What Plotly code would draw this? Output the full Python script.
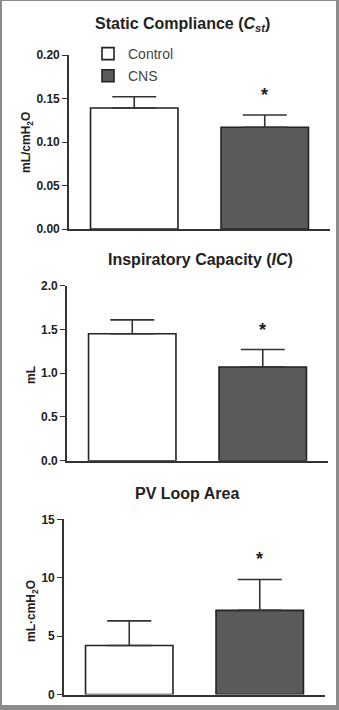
import plotly.graph_objects as go

W, H = 339, 710
FONT = "Liberation Sans, Arial, sans-serif"

groups = ["Control", "CNS"]
fill_colors = ["#ffffff", "#5a5a5a"]

titles = ["Static Compliance (<i>C</i><sub><i>st</i></sub>)",
          "Inspiratory Capacity (<i>IC</i>)",
          "PV Loop Area"]
ylabels = ["mL/cmH<sub>2</sub>O", "mL", "mL·cmH<sub>2</sub>O"]

# means and SEM
cst_mean = [0.139, 0.117]
cst_sem = [0.013, 0.014]
ic_mean = [1.45, 1.07]
ic_sem = [0.16, 0.20]
pv_mean = [4.2, 7.2]
pv_sem = [2.1, 2.65]

means = [cst_mean, ic_mean, pv_mean]
sems = [cst_sem, ic_sem, pv_sem]

y_ranges = [[0, 0.20], [0, 2.0], [0, 15]]
y_ticks = [[0.00, 0.05, 0.10, 0.15, 0.20],
           [0.0, 0.5, 1.0, 1.5, 2.0],
           [0, 5, 10, 15]]
y_ticktext = [["0.00", "0.05", "0.10", "0.15", "0.20"],
              ["0.0", "0.5", "1.0", "1.5", "2.0"],
              ["0", "5", "10", "15"]]

# pixel layout helpers
def px(x):
    return x / W

def py(y):
    return 1 - y / H

x_dom_px = [(69, 330), (67, 328), (64, 325)]
y_dom_px = [(229, 55), (460.7, 285.7), (694.5, 519.3)]
title_pos = [(182, 25), (200, 260), (187, 493)]
ylabel_pos = [(27, 143), (31, 375), (32, 611)]

fig = go.Figure()

for p in range(3):
    xa = "x" if p == 0 else f"x{p+1}"
    ya = "y" if p == 0 else f"y{p+1}"
    for g in range(2):
        fig.add_trace(go.Bar(
            x=[groups[g]], y=[means[p][g]],
            name=groups[g], legendgroup=groups[g], showlegend=(p == 0),
            marker=dict(color=fill_colors[g], line=dict(color="#222222", width=1.6)),
            width=0.67,
            error_y=dict(type="data", symmetric=False, array=[sems[p][g]],
                         arrayminus=[0], color="#333333", thickness=1.6, width=22),
            xaxis=xa, yaxis=ya,
        ))

layout = dict(
    width=W, height=H,
    margin=dict(l=0, r=0, t=0, b=0),
    paper_bgcolor="white", plot_bgcolor="white",
    font=dict(family=FONT, color="#222222"),
    barmode="group",
    showlegend=True,
    legend=dict(x=px(88), y=py(38), xanchor="left", yanchor="top",
                font=dict(family=FONT, size=14, color="#444444"),
                bgcolor="rgba(0,0,0,0)", tracegroupgap=1),
)

annotations = []
for p in range(3):
    ya = "y" if p == 0 else f"y{p+1}"
    xa = "x" if p == 0 else f"x{p+1}"
    xk = "xaxis" if p == 0 else f"xaxis{p+1}"
    yk = "yaxis" if p == 0 else f"yaxis{p+1}"
    layout[xk] = dict(
        domain=[px(x_dom_px[p][0]), px(x_dom_px[p][1])],
        anchor=ya, range=[-0.5, 1.5], type="category",
        showline=True, linecolor="#333333", linewidth=1.6,
        showticklabels=False, ticks="", showgrid=False, zeroline=False,
    )
    layout[yk] = dict(
        domain=[py(y_dom_px[p][0]), py(y_dom_px[p][1])],
        anchor=xa, range=y_ranges[p],
        tickvals=y_ticks[p], ticktext=y_ticktext[p],
        showline=True, linecolor="#333333", linewidth=1.6,
        ticks="outside", ticklen=5, tickwidth=1.4, tickcolor="#333333",
        tickfont=dict(family=FONT, size=12, color="#222222", weight="bold"),
        showgrid=False, zeroline=False, automargin=False,
    )
    annotations.append(dict(
        text=f"<b>{titles[p]}</b>", xref="paper", yref="paper",
        x=px(title_pos[p][0]), y=py(title_pos[p][1]),
        xanchor="center", yanchor="middle", showarrow=False,
        font=dict(family=FONT, size=16, color="#222222"),
    ))
    annotations.append(dict(
        text=f"<b>{ylabels[p]}</b>", xref="paper", yref="paper",
        x=px(ylabel_pos[p][0]), y=py(ylabel_pos[p][1]),
        xanchor="center", yanchor="middle", showarrow=False, textangle=-90,
        font=dict(family=FONT, size=12, color="#222222"),
    ))
    # significance star above CNS bar
    annotations.append(dict(
        text="<b>*</b>", xref=xa, yref=ya,
        x=groups[1], y=means[p][1] + sems[p][1],
        xanchor="center", yanchor="middle", yshift=20, showarrow=False,
        font=dict(family=FONT, size=18, color="#222222"),
    ))

layout["annotations"] = annotations

border = "#8c8c8c"
layout["shapes"] = [
    dict(type="rect", xref="paper", yref="paper", x0=0, x1=px(2), y0=0, y1=1,
         fillcolor=border, line=dict(width=0), layer="above"),
    dict(type="rect", xref="paper", yref="paper", x0=px(336), x1=1, y0=0, y1=1,
         fillcolor=border, line=dict(width=0), layer="above"),
    dict(type="rect", xref="paper", yref="paper", x0=0, x1=1, y0=0, y1=py(705),
         fillcolor=border, line=dict(width=0), layer="above"),
    dict(type="rect", xref="paper", yref="paper", x0=0, x1=1, y0=py(1), y1=1,
         fillcolor=border, line=dict(width=0), layer="above"),
]

fig.update_layout(**layout)
fig.write_html("out.html")
